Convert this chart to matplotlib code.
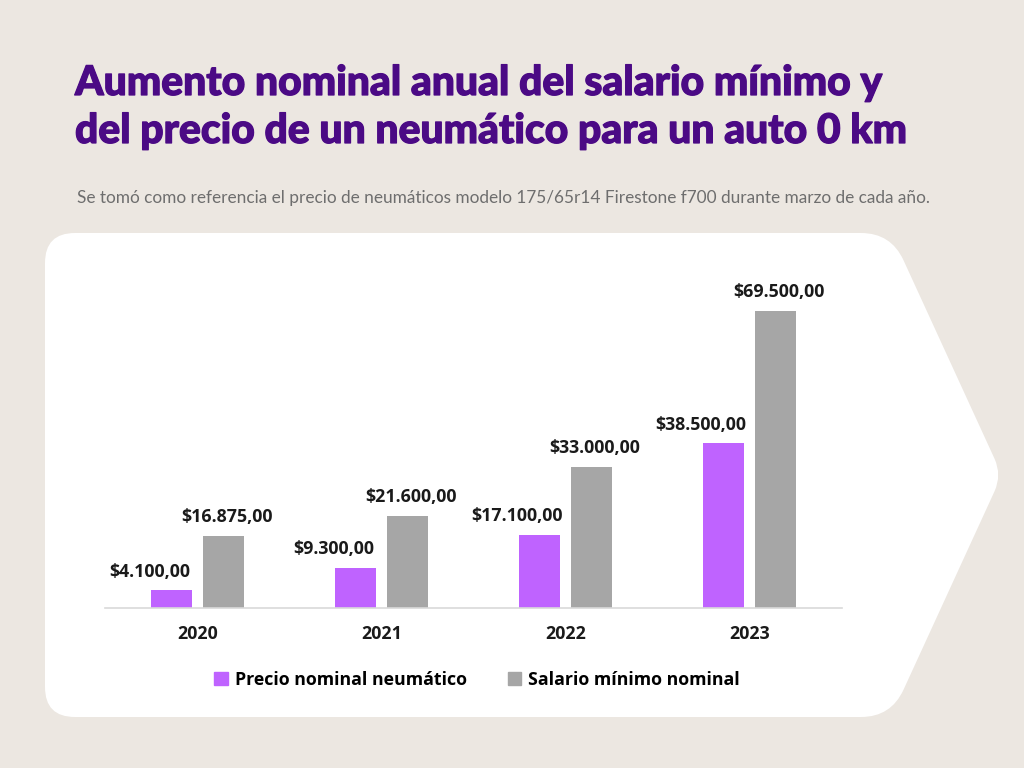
import numpy as np
import matplotlib.pyplot as plt
import matplotlib.patheffects as pe
from matplotlib.path import Path
from matplotlib.patches import PathPatch, Patch

# data
years = ['2020', '2021', '2022', '2023']
precio_neumatico = [4100, 9300, 17100, 38500]
salario_minimo = [16875, 21600, 33000, 69500]
labels_neumatico = ['$4.100,00', '$9.300,00', '$17.100,00', '$38.500,00']
labels_salario = ['$16.875,00', '$21.600,00', '$33.000,00', '$69.500,00']
legend_labels = ['Precio nominal neumático', 'Salario mínimo nominal']

TITLE1 = 'Aumento nominal anual del salario mínimo y'
TITLE2 = 'del precio de un neumático para un auto 0 km'
SUBTITLE = ('Se tomó como referencia el precio de neumáticos modelo '
            '175/65r14 Firestone f700 durante marzo de cada año.')

BG = '#ECE7E1'
PURPLE = '#BF63FF'
GREY = '#A6A6A6'
TITLE_C = '#4B0A85'
TXT = '#1A1A1A'

W, H = 1024, 768
fig = plt.figure(figsize=(W / 100, H / 100), dpi=100, facecolor=BG)


def px(x, y):
    return (x / W, 1 - y / H)


# white chevron card with rounded corners
corners = [(45, 233, 30), (891, 233, 30), (1002, 475, 18), (891, 717, 30), (45, 717, 30)]
verts, codes = [], []
n = len(corners)
for i in range(n):
    x0, y0, _ = corners[i - 1]
    x1, y1, r = corners[i]
    x2, y2, _ = corners[(i + 1) % n]
    v_in = np.array([x0 - x1, y0 - y1], float)
    v_out = np.array([x2 - x1, y2 - y1], float)
    a = np.array([x1, y1]) + v_in / np.linalg.norm(v_in) * r
    b = np.array([x1, y1]) + v_out / np.linalg.norm(v_out) * r
    verts += [px(*a), px(x1, y1), px(*b)]
    codes += [Path.LINETO, Path.CURVE3, Path.CURVE3]
codes[0] = Path.MOVETO
verts.append(verts[0])
codes.append(Path.CLOSEPOLY)
fig.patches.append(PathPatch(Path(verts, codes), transform=fig.transFigure,
                             facecolor='white', edgecolor='none', zorder=-5))

# titles
bold_fx = [pe.withStroke(linewidth=0.9, foreground=TITLE_C)]
fig.text(75 / W, 1 - 95 / H, TITLE1, color=TITLE_C, fontsize=29.4,
         fontfamily='Lato', fontweight='black', va='baseline', ha='left',
         path_effects=bold_fx)
fig.text(75 / W, 1 - 143 / H, TITLE2, color=TITLE_C, fontsize=29.4,
         fontfamily='Lato', fontweight='black', va='baseline', ha='left',
         path_effects=bold_fx)
fig.text(77 / W, 1 - 203 / H, SUBTITLE, color='#6E6E6E', fontsize=12.4,
         fontfamily='Lato', va='baseline', ha='left')

# chart
ax = fig.add_axes([105 / W, 1 - 608 / H, (842 - 105) / W, 320 / H], zorder=2)
ax.set_facecolor('none')
x = np.arange(len(years))
w = 0.223
off = 0.141
b1 = ax.bar(x - off, precio_neumatico, w, color=PURPLE)
b2 = ax.bar(x + off, salario_minimo, w, color=GREY)

for bar, lab in zip(b1, labels_neumatico):
    ax.annotate(lab, (bar.get_x() + bar.get_width() / 2, bar.get_height()),
                xytext=(-16, 10), textcoords='offset points', ha='center',
                va='baseline', fontsize=12.8, fontweight='bold',
                fontfamily='Open Sans', color=TXT)
for bar, lab in zip(b2, labels_salario):
    ax.annotate(lab, (bar.get_x() + bar.get_width() / 2, bar.get_height()),
                xytext=(2.5, 10), textcoords='offset points', ha='center',
                va='baseline', fontsize=12.8, fontweight='bold',
                fontfamily='Open Sans', color=TXT)

ax.set_xlim(-0.505, 3.505)
ax.set_ylim(0, 320 * 234)
ax.set_yticks([])
ax.set_xticks(x)
ax.set_xticklabels(years, fontsize=12.8, fontweight='bold',
                   fontfamily='Open Sans', color=TXT)
ax.tick_params(axis='x', length=0, pad=12)
for s in ['top', 'left', 'right']:
    ax.spines[s].set_visible(False)
ax.spines['bottom'].set_color('#D9D9D9')
ax.spines['bottom'].set_linewidth(1.2)

handles = [Patch(color=PURPLE), Patch(color=GREY)]
fig.legend(handles, legend_labels, loc='center', bbox_to_anchor=(477 / W, 1 - 680 / H),
           ncol=2, frameon=False, handlelength=0.75, handleheight=0.75,
           handletextpad=0.4, columnspacing=2.3,
           prop={'family': 'Open Sans', 'weight': 'bold', 'size': 12.8})

fig.savefig('out.png', dpi=100, facecolor=BG)
